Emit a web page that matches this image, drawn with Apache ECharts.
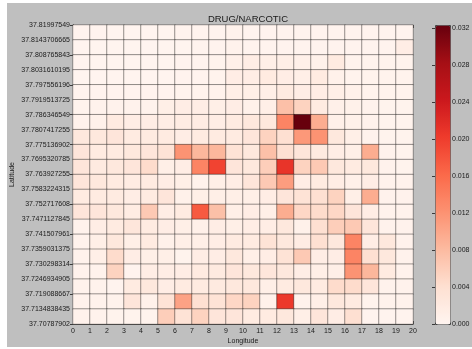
<!DOCTYPE html>
<html>
<head>
<meta charset="utf-8">
<script src="https://cdn.jsdelivr.net/npm/echarts@6/dist/echarts.min.js"></script>
<style>html,body{margin:0;padding:0;background:#fff}#c{width:472px;height:349px}</style>
</head>
<body>
<div id="c"></div>
<script>
const lonLabels = ['0','1','2','3','4','5','6','7','8','9','10','11','12','13','14','15','16','17','18','19','20'];
const latLabels = ['37.81997549','37.8143706665','37.808765843','37.8031610195','37.797556196','37.7919513725','37.786346549','37.7807417255','37.775136902','37.7695320785','37.763927255','37.7583224315','37.752717608','37.7471127845','37.741507961','37.7359031375','37.730298314','37.7246934905','37.719088667','37.7134838435','37.70787902'];
const colorTicks = [0, 0.004, 0.008, 0.012, 0.016, 0.020, 0.024, 0.028, 0.032];
const vMax = 0.0323;

// rows from top (north) to bottom (south), columns = longitude bins 0..19
const row00 = [0.0003,0.0003,0.0002,0.0002,0.0002,0.0002,0.0003,0.0003,0.0003,0.0005,0.0003,0.0003,0.0003,0.0003,0.0003,0.0003,0.0003,0.0003,0.0003,0.0003];
const row01 = [0.0002,0.0002,0.0002,0.0002,0.0002,0.0002,0.0002,0.0003,0.0003,0.0005,0.0003,0.0003,0.0003,0.0003,0.0003,0.0003,0.0003,0.0003,0.0003,0.0015];
const row02 = [0.0002,0.0002,0.0002,0.0002,0.0002,0.0002,0.0003,0.0003,0.0004,0.0010,0.0015,0.0012,0.0012,0.0010,0.0008,0.0020,0.0004,0.0004,0.0004,0.0004];
const row03 = [0.0002,0.0002,0.0002,0.0002,0.0002,0.0002,0.0003,0.0003,0.0004,0.0015,0.0015,0.0020,0.0015,0.0012,0.0020,0.0008,0.0004,0.0004,0.0004,0.0004];
const row04 = [0.0003,0.0003,0.0003,0.0003,0.0003,0.0003,0.0004,0.0004,0.0005,0.0012,0.0012,0.0012,0.0020,0.0015,0.0015,0.0012,0.0008,0.0004,0.0004,0.0004];
const row05 = [0.0004,0.0005,0.0005,0.0005,0.0005,0.0012,0.0015,0.0015,0.0012,0.0015,0.0008,0.0012,0.0075,0.0055,0.0020,0.0010,0.0008,0.0006,0.0004,0.0004];
const row06 = [0.0005,0.0008,0.0020,0.0015,0.0015,0.0015,0.0018,0.0018,0.0015,0.0020,0.0025,0.0025,0.0135,0.0323,0.0095,0.0010,0.0008,0.0005,0.0004,0.0004];
const row07 = [0.0025,0.0025,0.0030,0.0020,0.0020,0.0020,0.0015,0.0020,0.0020,0.0020,0.0030,0.0055,0.0040,0.0115,0.0120,0.0025,0.0012,0.0006,0.0004,0.0004];
const row08 = [0.0030,0.0020,0.0020,0.0025,0.0030,0.0035,0.0120,0.0085,0.0085,0.0035,0.0025,0.0075,0.0040,0.0030,0.0022,0.0015,0.0012,0.0095,0.0005,0.0004];
const row09 = [0.0030,0.0022,0.0025,0.0030,0.0045,0.0012,0.0015,0.0135,0.0195,0.0030,0.0025,0.0060,0.0210,0.0055,0.0065,0.0025,0.0020,0.0025,0.0005,0.0004];
const row10 = [0.0030,0.0025,0.0020,0.0018,0.0020,0.0015,0.0012,0.0005,0.0012,0.0015,0.0030,0.0065,0.0110,0.0015,0.0020,0.0015,0.0010,0.0015,0.0005,0.0005];
const row11 = [0.0020,0.0020,0.0020,0.0015,0.0020,0.0030,0.0008,0.0012,0.0012,0.0012,0.0012,0.0015,0.0030,0.0035,0.0040,0.0055,0.0012,0.0095,0.0005,0.0005];
const row12 = [0.0030,0.0030,0.0025,0.0018,0.0065,0.0015,0.0020,0.0175,0.0075,0.0012,0.0015,0.0012,0.0095,0.0050,0.0045,0.0050,0.0030,0.0015,0.0005,0.0005];
const row13 = [0.0006,0.0015,0.0020,0.0028,0.0020,0.0015,0.0012,0.0010,0.0015,0.0012,0.0015,0.0015,0.0025,0.0008,0.0040,0.0060,0.0065,0.0030,0.0006,0.0005];
const row14 = [0.0006,0.0012,0.0025,0.0012,0.0020,0.0008,0.0012,0.0012,0.0015,0.0020,0.0020,0.0035,0.0025,0.0018,0.0040,0.0025,0.0135,0.0015,0.0025,0.0005];
const row15 = [0.0006,0.0012,0.0045,0.0015,0.0012,0.0012,0.0004,0.0015,0.0015,0.0025,0.0012,0.0015,0.0035,0.0065,0.0015,0.0015,0.0135,0.0040,0.0025,0.0005];
const row16 = [0.0006,0.0006,0.0055,0.0003,0.0015,0.0015,0.0015,0.0020,0.0022,0.0030,0.0025,0.0028,0.0025,0.0015,0.0012,0.0012,0.0120,0.0085,0.0020,0.0005];
const row17 = [0.0005,0.0006,0.0003,0.0020,0.0025,0.0015,0.0020,0.0020,0.0022,0.0025,0.0025,0.0012,0.0020,0.0025,0.0020,0.0045,0.0045,0.0030,0.0005,0.0005];
const row18 = [0.0005,0.0006,0.0006,0.0030,0.0008,0.0035,0.0105,0.0040,0.0035,0.0050,0.0055,0.0008,0.0205,0.0006,0.0012,0.0025,0.0020,0.0004,0.0005,0.0005];
const row19 = [0.0005,0.0005,0.0004,0.0004,0.0004,0.0060,0.0035,0.0055,0.0030,0.0030,0.0020,0.0020,0.0025,0.0012,0.0030,0.0015,0.0040,0.0003,0.0003,0.0003];
const rows = [row00,row01,row02,row03,row04,row05,row06,row07,row08,row09,row10,row11,row12,row13,row14,row15,row16,row17,row18,row19];

const cellCats = Array.from({length: 20}, (_, i) => String(i));
const heatData = [];
rows.forEach((r, ri) => r.forEach((v, ci) => heatData.push([ci, ri, v])));

const FONT = 'Liberation Sans';
const TXT = '#1a1a1a';
const LINE = '#3a3a3a';
const FS = 7;

const chart = echarts.init(document.getElementById('c'), null, {renderer: 'canvas'});
chart.setOption({
  backgroundColor: '#ffffff',
  animation: false,
  textStyle: {fontFamily: FONT},
  graphic: [{type: 'rect', z: -10, silent: true, shape: {x: 7, y: 3, width: 465, height: 344}, style: {fill: '#bfbfbf'}}],
  title: {text: 'DRUG/NARCOTIC', left: 243, top: 9, textAlign: 'center',
    textStyle: {fontFamily: FONT, fontSize: 9.5, fontWeight: 'normal', color: TXT}},
  grid: [
    {left: 73, top: 25, width: 340, height: 299, containLabel: false, outerBoundsMode: 'none'},
    {left: 435, top: 25, width: 15, height: 299, containLabel: false, outerBoundsMode: 'none'}
  ],
  xAxis: [
    {type: 'category', gridIndex: 0, data: cellCats, position: 'top', boundaryGap: true,
      axisLine: {show: true, lineStyle: {color: LINE, width: 1}},
      axisTick: {show: true, inside: true, length: 3, lineStyle: {color: LINE}},
      axisLabel: {show: false}, splitLine: {show: false}},
    {type: 'value', gridIndex: 0, min: 0, max: 20, interval: 1, position: 'bottom',
      name: 'Longitude', nameLocation: 'middle', nameGap: 14, nameMoveOverlap: false,
      nameTextStyle: {fontFamily: FONT, fontSize: FS, color: TXT},
      axisLine: {show: true, lineStyle: {color: LINE, width: 1}},
      axisTick: {show: true, inside: true, length: 3, lineStyle: {color: LINE}},
      axisLabel: {show: true, fontFamily: FONT, fontSize: FS, color: TXT, margin: 4,
        formatter: v => lonLabels[Math.round(v)]},
      splitLine: {show: false}},
    {type: 'value', gridIndex: 1, show: false, min: 0, max: 1}
  ],
  yAxis: [
    {type: 'category', gridIndex: 0, data: cellCats, inverse: true, position: 'right', boundaryGap: true,
      axisLine: {show: true, lineStyle: {color: LINE, width: 1}},
      axisTick: {show: true, inside: true, length: 3, lineStyle: {color: LINE}},
      axisLabel: {show: false}, splitLine: {show: false}},
    {type: 'value', gridIndex: 0, min: 0, max: 20, interval: 1, inverse: true, position: 'left',
      name: 'Latitude', nameLocation: 'middle', nameGap: 57, nameRotate: 90, nameMoveOverlap: false,
      nameTextStyle: {fontFamily: FONT, fontSize: FS, color: TXT},
      axisLine: {show: true, lineStyle: {color: LINE, width: 1}},
      axisTick: {show: true, inside: true, length: 3, lineStyle: {color: LINE}},
      axisLabel: {show: true, fontFamily: FONT, fontSize: FS, color: TXT, margin: 3,
        formatter: v => latLabels[Math.round(v)]},
      splitLine: {show: false}},
    {type: 'value', gridIndex: 1, min: 0, max: vMax, interval: 0.004, position: 'right',
      axisLine: {show: false},
      axisTick: {show: true, inside: true, length: 3, lineStyle: {color: LINE}},
      axisLabel: {show: true, fontFamily: FONT, fontSize: FS, color: TXT, margin: 2, showMaxLabel: false,
        formatter: v => colorTicks.some(t => Math.abs(t - v) < 1e-9) ? v.toFixed(3) : ''},
      splitLine: {show: false}}
  ],
  visualMap: {
    type: 'continuous', min: 0, max: vMax, seriesIndex: 0, calculable: false,
    orient: 'vertical', left: 435, top: 25, itemWidth: 15, itemHeight: 299,
    padding: 0, borderColor: '#444', borderWidth: 1, text: null, showLabel: false,
    inRange: {color: ['#fff5f0','#fee0d2','#fcbba1','#fc9272','#fb6a4a','#ef3b2c','#cb181d','#a50f15','#67000d']}
  },
  series: [
    {type: 'heatmap', xAxisIndex: 0, yAxisIndex: 0, data: heatData,
      itemStyle: {borderColor: 'rgba(0,0,0,0.38)', borderWidth: 1},
      emphasis: {disabled: true}, label: {show: false}}
  ]
});
</script>
</body>
</html>
